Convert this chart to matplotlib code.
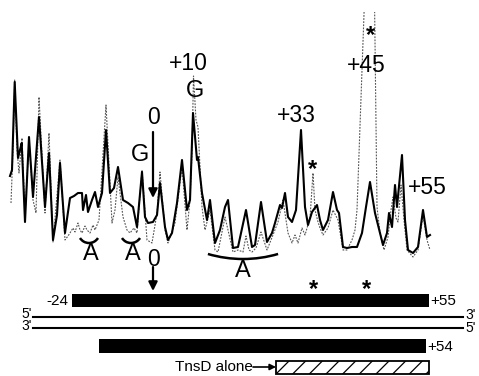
import matplotlib
matplotlib.use("Agg")
import matplotlib.pyplot as plt
from matplotlib.patches import Rectangle, Arc
import numpy as np

plt.rcParams['font.family'] = ['Liberation Sans', 'DejaVu Sans']
plt.rcParams['hatch.linewidth'] = 0.9

W, H = 479, 376

# scan traces (x position, trace height in screen rows)
solid_x = [10, 12, 14.7, 18, 20, 21.7, 25, 29, 33, 39, 45, 49, 53, 57, 60, 65, 70, 74, 78, 82,
           83, 86, 88, 92, 95, 98, 102, 106, 110, 114, 118, 123, 128, 133, 137, 142, 145, 148,
           153, 157, 160, 165, 168, 172, 177, 182, 187, 190, 193, 197, 198, 202, 207, 210,
           215, 220, 225, 228, 233, 238, 246, 252, 255, 261, 267, 272, 275, 280, 282, 285,
           288, 292, 296, 301, 305, 308, 312, 317, 320, 323, 328, 333, 337, 339, 343, 347,
           352, 357, 362, 366, 370, 375, 380, 383, 387, 389, 392, 395, 397, 402, 405, 408,
           413, 418, 423, 427, 430]
solid_y = [176, 170, 82, 158, 150, 143, 222, 137, 197, 117, 207, 153, 240, 215, 163, 233, 198, 196, 193, 193,
           210, 195, 212, 200, 192, 207, 193, 130, 193, 188, 167, 200, 203, 207, 227, 172, 217, 223,
           222, 215, 183, 227, 240, 233, 203, 160, 210, 200, 113, 160, 157, 193, 220, 200,
           243, 230, 207, 200, 248, 247, 210, 247, 245, 202, 242, 233, 223, 205, 208, 193,
           217, 222, 210, 130, 207, 225, 212, 205, 220, 230, 220, 192, 210, 213, 247, 248,
           247, 247, 233, 207, 182, 213, 233, 245, 233, 213, 227, 185, 207, 155, 220, 250,
           253, 247, 210, 237, 235]

dashed_x = [11, 13, 14.7, 17, 19, 22, 25, 29, 33, 36, 39, 45, 49, 53, 60, 65, 68, 70, 73, 75,
            78, 80, 82, 85, 87, 90, 93, 95, 99, 106, 112, 115, 118, 123, 127, 130, 134, 137,
            142, 147, 152, 157, 160, 165, 168, 175, 182, 187, 190, 192, 193.5, 196, 198, 202,
            205, 210, 215, 218, 225, 228, 233, 238, 243, 246, 249, 252, 256, 261, 267, 273,
            278, 283, 288, 292, 295, 298, 302, 305, 310, 313, 315, 318, 320, 323, 328, 333,
            338, 343, 347, 352, 355, 357, 364.5, 369.5, 374.5, 377, 380, 384, 388, 391, 393,
            396, 398, 401, 404, 407, 413, 418, 423, 427, 430]
dashed_y = [203, 150, 80, 150, 173, 138, 217, 140, 200, 213, 97, 213, 133, 242, 160, 240, 236, 233, 228, 232,
            223, 230, 233, 226, 230, 233, 225, 230, 220, 105, 223, 210, 177, 217, 230, 233, 228, 233,
            170, 240, 243, 213, 172, 230, 243, 223, 167, 230, 200, 153, 76, 120, 127, 207,
            230, 210, 250, 252, 217, 230, 252, 250, 252, 236, 250, 252, 248, 232, 250, 235,
            222, 200, 233, 243, 235, 243, 228, 235, 218, 173, 210, 222, 228, 235, 228, 210,
            220, 250, 250, 240, 230, 210, 0, -140, 0, 207, 233, 250, 237, 210, 197,
            218, 222, 185, 220, 250, 257, 250, 215, 240, 250]

fig = plt.figure(figsize=(W / 100, H / 100), dpi=100)
ax = fig.add_axes([0, 0, 1, 1])
ax.set_xlim(0, W)
ax.set_ylim(H, 0)
ax.axis('off')

clip = Rectangle((0, 11.7), W, 300, transform=ax.transData)
dl, = ax.plot(dashed_x, dashed_y, color='#555555', lw=0.8, linestyle=(0, (1.6, 1.2)))
dl.set_clip_path(clip)
ax.plot(solid_x, solid_y, color='black', lw=1.5, solid_joinstyle='round')

big = 16.5
# peak labels
ax.text(188, 63, '+10', fontsize=big, ha='center', va='center')
ax.text(195, 91, 'G', fontsize=big + 0.5, ha='center', va='center')
ax.text(154, 118, '0', fontsize=big, ha='center', va='center')
ax.text(140, 155, 'G', fontsize=big + 0.5, ha='center', va='center')
ax.text(296, 115, '+33', fontsize=big, ha='center', va='center')
ax.text(366, 66, '+45', fontsize=big, ha='center', va='center')
ax.text(427, 188, '+55', fontsize=big, ha='center', va='center')

ax.annotate('', xy=(153, 198), xytext=(153, 132),
            arrowprops=dict(arrowstyle='-|>', lw=1.6, color='black', mutation_scale=13, shrinkA=0, shrinkB=0))

# asterisks
for ax_x, ax_y in [(313, 168), (371, 34), (314, 288), (367, 288)]:
    ax.text(ax_x, ax_y + 8.5, '*', fontsize=17, ha='center', va='baseline', fontweight='bold')

# A regions
for cx in [89, 131]:
    ax.add_patch(Arc((cx, 232.4), 21.2, 21.2, theta1=32, theta2=148, lw=1.8, color='black'))
    ax.text(cx + 2, 254, 'A', fontsize=big + 0.5, ha='center', va='center')
ax.add_patch(Arc((243, 134), 250, 250, theta1=73.7, theta2=106.3, lw=1.8, color='black'))
ax.text(243, 271, 'A', fontsize=big + 0.5, ha='center', va='center')

ax.text(154, 259, '0', fontsize=big, ha='center', va='center')
ax.annotate('', xy=(153, 291), xytext=(153, 267),
            arrowprops=dict(arrowstyle='-|>', lw=1.6, color='black', mutation_scale=13, shrinkA=0, shrinkB=0))

# DNA schematic
small = 11
ax.add_patch(Rectangle((72, 294), 357, 13, color='black', lw=0))
ax.text(68, 301, '-24', fontsize=small, ha='right', va='center')
ax.text(430, 301, '+55', fontsize=small, ha='left', va='center')

ax.plot([33, 463], [316.7, 316.7], color='black', lw=1.5)
ax.plot([33, 463], [328.3, 328.3], color='black', lw=1.5)
ax.text(32, 318, "5'", fontsize=10, ha='right', va='baseline')
ax.text(32, 330.5, "3'", fontsize=10, ha='right', va='baseline')
ax.text(465, 319, "3'", fontsize=10, ha='left', va='baseline')
ax.text(465, 331.5, "5'", fontsize=10, ha='left', va='baseline')

ax.add_patch(Rectangle((99, 339), 327, 14, color='black', lw=0))
ax.text(427, 347, '+54', fontsize=small, ha='left', va='center')

ax.add_patch(Rectangle((276, 360.5), 153, 13.5, facecolor='white', edgecolor='black', lw=1.3, hatch='//'))
ax.text(253, 367, 'TnsD alone', fontsize=small, ha='right', va='center')
ax.annotate('', xy=(276, 367), xytext=(253, 367),
            arrowprops=dict(arrowstyle='-|>', lw=1.2, color='black', mutation_scale=9, shrinkA=0, shrinkB=0))

fig.savefig('out.png', dpi=100, facecolor='white')
